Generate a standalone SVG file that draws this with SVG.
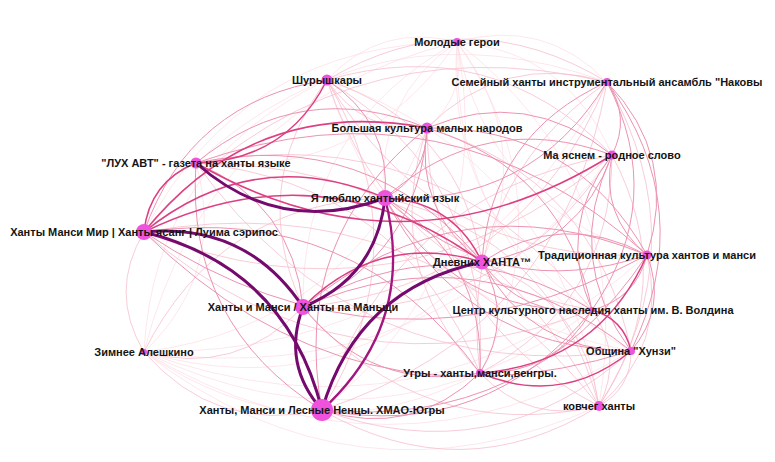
<svg xmlns="http://www.w3.org/2000/svg" width="775" height="462" viewBox="0 0 775 462">
<style>
.e path{fill:none;stroke-linecap:round}
.l0 path{stroke:#fcd9df;stroke-width:0.8;opacity:0.8}
.l1 path{stroke:#f6bccb;stroke-width:0.9;opacity:0.85}
.l2 path{stroke:#ec93b0;stroke-width:1}
.l3 path{stroke:#dc3f82;stroke-width:1.5}
.l4 path{stroke:#a3157f;stroke-width:2.3}
.l5 path{stroke:#750a6e;stroke-width:3}
.n{fill:#ef52dc}
text{font-family:"Liberation Sans",Arial,sans-serif;font-size:11px;font-weight:bold;fill:#141414;text-anchor:middle}
</style>
<rect width="775" height="462" fill="#ffffff"/>
<g id="connectors" class="e">
<g class="l0">
<path d="M457,42 Q544,17 607,82"/>
<path d="M457,42 Q380.6,22 327,80"/>
<path d="M457,42 Q467.8,94 427,128"/>
<path d="M457,42 Q568.4,52 612,155"/>
<path d="M457,42 Q362.8,180.8 196,163"/>
<path d="M457,42 Q374.2,98.4 385,198"/>
<path d="M457,42 Q243.5,43.1 144,232"/>
<path d="M457,42 Q535.5,144.5 482,262"/>
<path d="M457,42 Q488.1,205.5 647,255"/>
<path d="M457,42 Q300.5,128.3 303,307"/>
<path d="M457,42 Q444.1,216.5 592,310"/>
<path d="M457,42 Q207.5,103.1 144,352"/>
<path d="M457,42 Q451.3,248.7 631,351"/>
<path d="M457,42 Q567.8,200.6 480,373"/>
<path d="M457,42 Q499.9,266.5 322,410"/>
<path d="M457,42 Q637.2,181.4 599,406"/>
<path d="M607,82 Q377.2,-0.8 196,163"/>
<path d="M607,82 Q456.5,355.9 144,352"/>
<path d="M327,80 Q153.9,161.1 144,352"/>
<path d="M327,80 Q397.7,306.7 631,351"/>
<path d="M327,80 Q560.8,161.4 599,406"/>
<path d="M427,128 Q352.7,324.9 144,352"/>
<path d="M612,155 Q437.1,393.9 144,352"/>
<path d="M196,163 Q226.7,273.1 144,352"/>
<path d="M482,262 Q340,408.4 144,352"/>
<path d="M647,255 Q424.6,454.4 144,352"/>
<path d="M592,310 Q380.6,465.4 144,352"/>
<path d="M144,352 Q387.8,497.6 631,351"/>
<path d="M144,352 Q305.7,463.3 480,373"/>
<path d="M144,352 Q355.3,515.5 599,406"/>
</g>
<g class="l1">
<path d="M607,82 Q467.6,-3 327,80"/>
<path d="M607,82 Q503.2,51 427,128"/>
<path d="M607,82 Q330.5,18.1 144,232"/>
<path d="M607,82 Q522.5,285.7 303,307"/>
<path d="M607,82 Q456.2,189.4 480,373"/>
<path d="M607,82 Q562.9,331.5 322,410"/>
<path d="M607,82 Q700.2,246.4 599,406"/>
<path d="M327,80 Q362.6,134 427,128"/>
<path d="M327,80 Q492,32 612,155"/>
<path d="M327,80 Q459.1,124.5 482,262"/>
<path d="M327,80 Q434.5,263.5 647,255"/>
<path d="M327,80 Q246.9,186.3 303,307"/>
<path d="M327,80 Q390.5,274.5 592,310"/>
<path d="M327,80 Q491.4,180.6 480,373"/>
<path d="M327,80 Q423.5,246.5 322,410"/>
<path d="M427,128 Q595.9,178.3 631,351"/>
<path d="M427,128 Q380,266.4 480,373"/>
<path d="M427,128 Q429.6,318.6 599,406"/>
<path d="M612,155 Q401.1,333.9 144,232"/>
<path d="M612,155 Q503.1,323.7 303,307"/>
<path d="M612,155 Q611.4,303.6 480,373"/>
<path d="M612,155 Q390.5,195.5 322,410"/>
<path d="M612,155 Q680.8,284.4 599,406"/>
<path d="M196,163 Q438.1,117.7 592,310"/>
<path d="M196,163 Q357.1,387.5 631,351"/>
<path d="M196,163 Q401,182.8 480,373"/>
<path d="M196,163 Q470.4,163.6 599,406"/>
<path d="M385,198 Q218.3,202.7 144,352"/>
<path d="M385,198 Q554.4,237.8 599,406"/>
<path d="M144,232 Q344.6,405.4 592,310"/>
<path d="M144,232 Q108,292 144,352"/>
<path d="M144,232 Q423.7,182.5 599,406"/>
<path d="M482,262 Q583.7,298.9 599,406"/>
<path d="M647,255 Q668.3,344.9 599,406"/>
<path d="M303,307 Q237,377.2 144,352"/>
<path d="M303,307 Q421.3,445.3 599,406"/>
<path d="M592,310 Q624.3,355.9 599,406"/>
<path d="M144,352 Q215.6,434.4 322,410"/>
<path d="M631,351 Q494.2,473.2 322,410"/>
<path d="M631,351 Q631.5,388.1 599,406"/>
<path d="M480,373 Q529.6,425.2 599,406"/>
<path d="M322,410 Q461.7,491.1 599,406"/>
</g>
<g class="l2">
<path d="M607,82 Q631.4,117 612,155"/>
<path d="M607,82 Q530.8,206.6 385,198"/>
<path d="M607,82 Q490.5,134.5 482,262"/>
<path d="M607,82 Q678.9,156.5 647,255"/>
<path d="M607,82 Q667.9,200.5 592,310"/>
<path d="M607,82 Q699.7,209.3 631,351"/>
<path d="M327,80 Q391.4,121.6 385,198"/>
<path d="M327,80 Q189.9,101.1 144,232"/>
<path d="M427,128 Q527.6,86 612,155"/>
<path d="M427,128 Q301,76.2 196,163"/>
<path d="M427,128 Q427,175.6 385,198"/>
<path d="M427,128 Q414.3,211.5 482,262"/>
<path d="M427,128 Q575.1,125.5 647,255"/>
<path d="M427,128 Q418.7,254.7 303,307"/>
<path d="M427,128 Q564.1,169.5 592,310"/>
<path d="M427,128 Q289.9,237.5 322,410"/>
<path d="M612,155 Q485.6,108.4 385,198"/>
<path d="M612,155 Q579.1,247.5 482,262"/>
<path d="M612,155 Q599.5,215.5 647,255"/>
<path d="M612,155 Q555.5,226.5 592,310"/>
<path d="M612,155 Q562.7,258.7 631,351"/>
<path d="M196,163 Q368.7,126.7 482,262"/>
<path d="M196,163 Q449.1,73.7 647,255"/>
<path d="M196,163 Q292.7,202.9 303,307"/>
<path d="M196,163 Q184.9,324.3 322,410"/>
<path d="M385,198 Q498.9,305.1 647,255"/>
<path d="M385,198 Q454.9,316.1 592,310"/>
<path d="M385,198 Q462.1,348.3 631,351"/>
<path d="M385,198 Q485,257 480,373"/>
<path d="M144,232 Q388.6,394.4 647,255"/>
<path d="M144,232 Q351.8,437.6 631,351"/>
<path d="M144,232 Q354.3,201.7 480,373"/>
<path d="M482,262 Q562.4,209 647,255"/>
<path d="M482,262 Q522.6,319 592,310"/>
<path d="M482,262 Q529.8,351.2 631,351"/>
<path d="M482,262 Q514.3,318.1 480,373"/>
<path d="M647,255 Q459.4,177.8 303,307"/>
<path d="M647,255 Q636,299 592,310"/>
<path d="M647,255 Q667.8,307.8 631,351"/>
<path d="M647,255 Q531,430 322,410"/>
<path d="M303,307 Q448.4,221.8 592,310"/>
<path d="M303,307 Q480.2,230.6 631,351"/>
<path d="M303,307 Q371.7,393.1 480,373"/>
<path d="M592,310 Q554.9,375.1 480,373"/>
<path d="M592,310 Q487,441 322,410"/>
<path d="M480,373 Q412.1,438.9 322,410"/>
</g>
<g class="l3">
<path d="M327,80 Q286.4,160.8 196,163"/>
<path d="M427,128 Q254.3,95.1 144,232"/>
<path d="M612,155 Q406.4,283.8 196,163"/>
<path d="M196,163 Q149.3,181.9 144,232"/>
<path d="M385,198 Q254.3,142.7 144,232"/>
<path d="M385,198 Q452.7,200.9 482,262"/>
<path d="M144,232 Q322,145.6 482,262"/>
<path d="M482,262 Q379,230.8 303,307"/>
<path d="M647,255 Q598.9,364.1 480,373"/>
<path d="M592,310 Q623.8,318.8 631,351"/>
<path d="M631,351 Q562.1,407.3 480,373"/>
</g>
<g class="l4">
<path d="M385,198 Q417.1,322.9 322,410"/>
</g>
<g class="l5">
<path d="M196,163 Q280,237.2 385,198"/>
<path d="M385,198 Q376.7,277.1 303,307"/>
<path d="M144,232 Q246,221.8 303,307"/>
<path d="M144,232 Q286.4,267.6 322,410"/>
<path d="M482,262 Q357.6,288 322,410"/>
<path d="M303,307 Q281.6,364.2 322,410"/>
</g>
</g>
<g id="node-molodye-geroi"><circle class="n" cx="457" cy="42" r="4"/><text x="457" y="46">Молодые герои</text></g>
<g id="node-semeyny"><circle class="n" cx="607" cy="82" r="4"/><text x="607" y="86">Семейный ханты инструментальный ансамбль "Наковы</text></g>
<g id="node-shuryshkary"><circle class="n" cx="327" cy="80" r="5.5"/><text x="327" y="84">Шурышкары</text></g>
<g id="node-bolshaya"><circle class="n" cx="427" cy="128" r="5.5"/><text x="427" y="132">Большая культура малых народов</text></g>
<g id="node-ma-yasnem"><circle class="n" cx="612" cy="155" r="4.5"/><text x="612" y="159">Ма яснем - родное слово</text></g>
<g id="node-luh-avt"><circle class="n" cx="196" cy="163" r="5.5"/><text x="196" y="167">"ЛУХ АВТ" - газета на ханты языке</text></g>
<g id="node-ya-lyublyu"><circle class="n" cx="385" cy="198" r="8"/><text x="385" y="202">Я люблю хантыйский язык</text></g>
<g id="node-hanty-mansi-mir"><circle class="n" cx="144" cy="232" r="8"/><text x="144" y="236">Ханты Манси Мир | Ханты ясанг | Луима сэрипос</text></g>
<g id="node-dnevnih"><circle class="n" cx="482" cy="262" r="7.5"/><text x="482" y="266">Дневних ХАНТА™</text></g>
<g id="node-tradicionnaya"><circle class="n" cx="647" cy="255" r="4.5"/><text x="647" y="259">Традиционная культура хантов и манси</text></g>
<g id="node-hanty-i-mansi"><circle class="n" cx="303" cy="307" r="8"/><text x="303" y="311">Ханты и Манси / Ха̄нты па Ма̄ньщи</text></g>
<g id="node-centr"><circle class="n" cx="592" cy="310" r="3"/><text x="593" y="314">Центр культурного наследия ханты им. В. Волдина</text></g>
<g id="node-zimnee"><circle class="n" cx="144" cy="352" r="3"/><text x="144" y="356">Зимнее Алешкино</text></g>
<g id="node-obshchina"><circle class="n" cx="631" cy="351" r="4"/><text x="631" y="355">Община "Хунзи"</text></g>
<g id="node-ugry"><circle class="n" cx="480" cy="373" r="4"/><text x="480" y="377">Угры - ханты,манси,венгры.</text></g>
<g id="node-hmao"><circle class="n" cx="322" cy="410" r="11"/><text x="322" y="414">Ханты, Манси и Лесные Ненцы. ХМАО-Югры</text></g>
<g id="node-kovcheg"><circle class="n" cx="599" cy="406" r="5"/><text x="599" y="410">ковчег ханты</text></g>
</svg>
